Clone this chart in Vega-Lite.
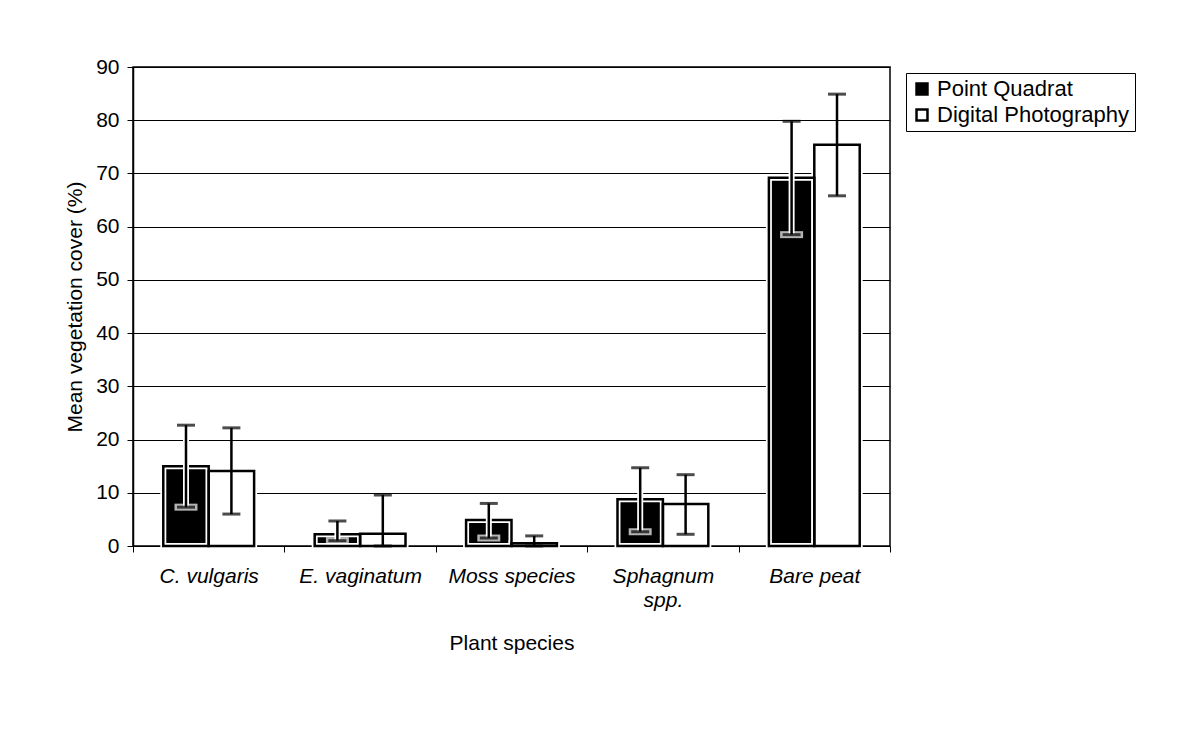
{
  "$schema": "https://vega.github.io/schema/vega-lite/v6.json",
  "autosize": "none",
  "width": 757,
  "height": 479,
  "padding": {"left": 133, "top": 67, "right": 296, "bottom": 188},
  "background": "white",
  "config": {
    "font": "Liberation Sans",
    "view": {"stroke": "black", "strokeWidth": 1.5},
    "axis": {"labelColor": "black", "titleColor": "black", "domainColor": "black", "tickColor": "black", "labelFont": "Liberation Sans", "titleFont": "Liberation Sans", "titleFontWeight": "normal"}
  },
  "data": {
    "values": [
      {"species": "C. vulgaris", "method": "Point Quadrat", "mean": 15.0, "low": 7.3, "high": 22.7},
      {"species": "C. vulgaris", "method": "Digital Photography", "mean": 14.1, "low": 6.0, "high": 22.2},
      {"species": "E. vaginatum", "method": "Point Quadrat", "mean": 2.2, "low": 1.0, "high": 4.7},
      {"species": "E. vaginatum", "method": "Digital Photography", "mean": 2.3, "low": -5.0, "high": 9.6},
      {"species": "Moss species", "method": "Point Quadrat", "mean": 4.9, "low": 1.5, "high": 8.0},
      {"species": "Moss species", "method": "Digital Photography", "mean": 0.5, "low": -0.9, "high": 1.9},
      {"species": "Sphagnum spp.", "method": "Point Quadrat", "mean": 8.8, "low": 2.7, "high": 14.7},
      {"species": "Sphagnum spp.", "method": "Digital Photography", "mean": 7.9, "low": 2.2, "high": 13.4},
      {"species": "Bare peat", "method": "Point Quadrat", "mean": 69.2, "low": 58.5, "high": 79.8},
      {"species": "Bare peat", "method": "Digital Photography", "mean": 75.4, "low": 65.8, "high": 84.9}
    ]
  },
  "encoding": {
    "x": {
      "field": "species", "type": "nominal", "sort": null,
      "scale": {"paddingInner": 0, "paddingOuter": 0},
      "axis": {
        "title": "Plant species", "titleFontSize": 21, "titlePadding": 22,
        "labelAngle": 0, "labelFontSize": 21, "labelFontStyle": "italic",
        "labelPadding": 13, "labelLimit": 200, "labelLineHeight": 24,
        "labelExpr": "datum.value == 'Sphagnum spp.' ? ['Sphagnum', 'spp.'] : datum.value",
        "tickBand": "extent", "tickSize": 6, "domain": false, "grid": false
      }
    },
    "xOffset": {
      "field": "method", "type": "nominal", "sort": ["Point Quadrat", "Digital Photography"],
      "scale": {"paddingInner": 0, "paddingOuter": 0.667}
    }
  },
  "layer": [
    {
      "mark": {"type": "bar", "stroke": "white", "strokeWidth": 6},
      "encoding": {
        "y": {
          "field": "mean", "type": "quantitative",
          "scale": {"domain": [0, 90], "clamp": true, "nice": false},
          "axis": {
            "title": "Mean vegetation cover (%)", "titleFontSize": 21, "titlePadding": 10,
            "values": [0, 10, 20, 30, 40, 50, 60, 70, 80, 90],
            "labelFontSize": 21, "labelPadding": 8, "tickSize": 6,
            "grid": true, "gridColor": "black", "gridWidth": 1, "gridOpacity": 1,
            "domainWidth": 1.5
          }
        },
        "fill": {
          "field": "method", "type": "nominal", "sort": ["Point Quadrat", "Digital Photography"],
          "scale": {"domain": ["Point Quadrat", "Digital Photography"], "range": ["black", "white"]},
          "legend": {
            "title": null, "orient": "none", "legendX": 773, "legendY": 6,
            "symbolType": "square", "symbolSize": 120, "symbolStrokeColor": "black", "symbolStrokeWidth": 2.5,
            "labelFontSize": 22, "labelColor": "black", "labelFont": "Liberation Sans",
            "strokeColor": "black", "padding": 5, "rowPadding": 4, "labelOffset": 4,
            "fillColor": "white", "labelLimit": 300
          }
        }
      }
    },
    {
      "mark": {"type": "bar", "fill": null, "fillOpacity": 0, "stroke": "black", "strokeWidth": 2.5},
      "encoding": {"y": {"field": "mean", "type": "quantitative"}}
    },
    {
      "transform": [{"filter": "datum.method == 'Point Quadrat'"}],
      "mark": {"type": "rule", "color": "white", "strokeWidth": 6},
      "encoding": {"y": {"field": "low", "type": "quantitative"}, "y2": {"field": "high"}}
    },
    {
      "transform": [{"filter": "datum.method == 'Point Quadrat'"}],
      "mark": {"type": "tick", "color": "white", "thickness": 7, "size": 23},
      "encoding": {"y": {"field": "low", "type": "quantitative"}}
    },
    {
      "mark": {"type": "rule", "color": "black", "strokeWidth": 2.5},
      "encoding": {"y": {"field": "low", "type": "quantitative"}, "y2": {"field": "high"}}
    },
    {
      "mark": {"type": "tick", "color": "black", "thickness": 3, "size": 18},
      "encoding": {"y": {"field": "low", "type": "quantitative"}}
    },
    {
      "mark": {"type": "tick", "color": "black", "thickness": 3, "size": 18},
      "encoding": {"y": {"field": "high", "type": "quantitative"}}
    }
  ]
}
